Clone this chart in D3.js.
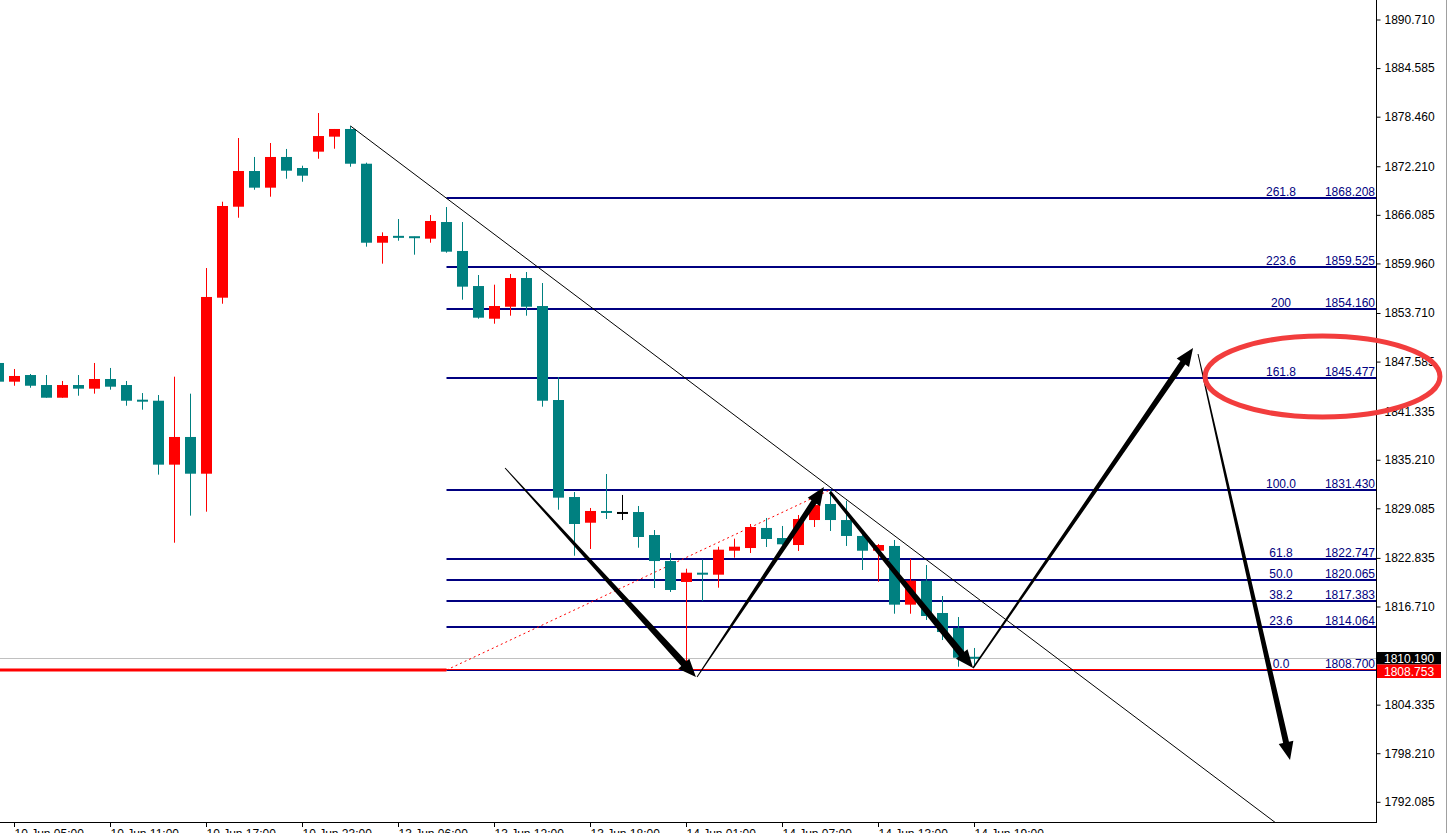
<!DOCTYPE html>
<html><head><meta charset="utf-8">
<script src="https://cdn.jsdelivr.net/npm/d3@7"></script>
<style>html,body{margin:0;padding:0;background:#fff;overflow:hidden}svg{display:block}</style>
</head><body><svg id="c" width="1449" height="833"></svg>
<script>
// ---------- DATA ----------
const opens  = [1847.41,1845.05,1845.89,1844.63,1843.03,1844.63,1844.17,1845.39,1844.63,1842.78,1842.65,1834.59,1838.08,1833.45,1855.64,1867.11,1871.61,1869.51,1873.38,1871.99,1874.05,1875.94,1876.91,1872.53,1862.57,1863.42,1863.33,1863.08,1865.18,1861.53,1857.11,1852.99,1854.50,1858.12,1854.59,1842.74,1830.51,1827.27,1828.75,1828.50,1828.62,1825.72,1822.44,1819.80,1820.97,1820.72,1823.74,1824.08,1826.61,1825.34,1824.46,1827.61,1829.63,1827.61,1825.60,1823.74,1824.34,1816.94,1819.96,1815.89,1814.00,1810.30];
const highs  = [1847.66,1846.65,1846.02,1845.89,1845.14,1845.89,1847.41,1846.78,1845.14,1843.62,1843.37,1845.68,1843.54,1859.38,1867.74,1875.77,1873.38,1875.14,1874.39,1872.28,1878.92,1876.91,1877.29,1872.66,1863.88,1865.56,1863.33,1866.06,1867.07,1865.18,1858.50,1857.28,1858.63,1858.88,1857.49,1845.64,1831.14,1829.13,1833.41,1830.77,1829.38,1826.35,1823.45,1821.47,1822.61,1824.25,1825.26,1827.11,1827.87,1826.86,1828.24,1830.51,1831.43,1830.05,1825.90,1824.59,1825.09,1822.70,1821.94,1818.03,1815.38,1811.48];
const lows   = [1844.89,1844.54,1844.29,1843.03,1843.03,1843.28,1843.54,1844.04,1842.02,1841.52,1833.33,1824.75,1828.16,1828.66,1854.88,1865.72,1869.25,1868.37,1870.64,1870.26,1873.16,1874.42,1872.15,1862.07,1859.93,1862.82,1861.06,1862.57,1861.31,1855.39,1852.99,1852.36,1853.37,1853.37,1841.90,1828.91,1823.11,1823.96,1827.74,1827.61,1824.12,1819.04,1818.54,1808.87,1817.40,1819.08,1822.86,1823.45,1824.21,1824.46,1823.71,1826.73,1826.23,1824.34,1821.31,1819.83,1815.80,1815.80,1815.01,1812.48,1809.12,1809.12];
const closes = [1845.05,1845.77,1844.54,1843.03,1844.63,1844.17,1845.39,1844.42,1842.65,1842.53,1834.59,1838.08,1833.45,1855.73,1867.20,1871.61,1869.51,1873.38,1871.65,1871.02,1876.02,1876.91,1872.53,1862.57,1863.42,1863.20,1863.20,1865.31,1861.44,1857.03,1853.12,1854.59,1858.12,1854.50,1842.65,1830.43,1827.11,1828.75,1828.50,1828.50,1825.47,1822.44,1818.79,1820.97,1820.72,1823.87,1824.25,1826.73,1825.22,1824.55,1827.74,1829.50,1827.61,1825.60,1823.74,1824.46,1816.94,1819.96,1815.51,1813.49,1810.25,1810.19];

const xTickBars   = [1,7,13,19,25,31,37,43,49,55,61];
const xTickLabels = ["10 Jun 05:00","10 Jun 11:00","10 Jun 17:00","10 Jun 23:00","13 Jun 06:00","13 Jun 12:00","13 Jun 18:00","14 Jun 01:00","14 Jun 07:00","14 Jun 13:00","14 Jun 19:00"];
const yTickValues = [1890.710,1884.585,1878.460,1872.210,1866.085,1859.960,1853.710,1847.585,1841.335,1835.210,1829.085,1822.835,1816.710,1804.335,1798.210,1792.085];

const fibRatios = ["261.8","223.6","200","161.8","100.0","61.8","50.0","38.2","23.6","0.0"];
const fibPrices = [1868.208,1859.525,1854.160,1845.477,1831.430,1822.747,1820.065,1817.383,1814.064,1808.700];
const fibAnchorBars   = [28,52];
const fibAnchorPrices = [1808.700,1831.430];

const bidPrice = 1810.190;
const askPrice = 1808.753;

const trendBars   = [22,52];
const trendPrices = [1877.29,1831.71];

const arrowStartBars   = [31.66,43.66,51.97,60.91,74.97];
const arrowStartPrices = [1834.17,1807.82,1831.14,1808.96,1848.54];
const arrowEndBars     = [43.59,51.59,60.91,74.66,80.72];
const arrowEndPrices   = [1807.82,1831.77,1808.96,1849.30,1797.36];

const ellipseBars   = [75.41,90.09];
const ellipsePrices = [1850.81,1840.60];

// ---------- LAYOUT ----------
const W = 1449, H = 833;
const plotR = 1376, plotB = 822;
const svg = d3.select("#c");
const FONT = "'Liberation Sans', Arial, sans-serif";

const x = d3.scaleLinear().domain([0,1]).range([-1.5,14.5]);
const y = d3.scaleLinear().domain([1789.54,1893.17]).range([plotB,0]);

svg.append("rect").attr("width",W).attr("height",H).attr("fill","#fff");
svg.append("defs").append("clipPath").attr("id","plot")
  .append("rect").attr("x",0).attr("y",0).attr("width",plotR).attr("height",plotB);

const g = svg.append("g").attr("clip-path","url(#plot)");

// bid line
g.append("line").attr("x1",0).attr("x2",plotR)
  .attr("y1",Math.round(y(bidPrice))+0.5).attr("y2",Math.round(y(bidPrice))+0.5)
  .attr("stroke","#c0c0c0").attr("stroke-width",1);

// thick red horizontal segment (left of fib anchor)
g.append("line").attr("x1",0).attr("x2",x(fibAnchorBars[0]))
  .attr("y1",y(fibAnchorPrices[0])).attr("y2",y(fibAnchorPrices[0]))
  .attr("stroke","#ff0000").attr("stroke-width",3);

// fib levels
fibPrices.forEach((p,i)=>{
  const yy = Math.round(y(p));
  g.append("line").attr("x1",x(fibAnchorBars[0])).attr("x2",plotR)
    .attr("y1",yy).attr("y2",yy).attr("stroke","#000080").attr("stroke-width",2);
  g.append("text").attr("x",1281).attr("y",yy-2).attr("text-anchor","middle")
    .attr("font-family",FONT).attr("font-size",12).attr("fill","#000080").text(fibRatios[i]);
  g.append("text").attr("x",1375).attr("y",yy-2).attr("text-anchor","end")
    .attr("font-family",FONT).attr("font-size",12).attr("fill","#000080").text(p.toFixed(3));
});

// ask line (thin red across)
g.append("line").attr("x1",0).attr("x2",plotR)
  .attr("y1",Math.round(y(askPrice))-0.5).attr("y2",Math.round(y(askPrice))-0.5)
  .attr("stroke","#ff0000").attr("stroke-width",1);

// fib dotted connector
g.append("line")
  .attr("x1",x(fibAnchorBars[0])).attr("y1",y(fibAnchorPrices[0]))
  .attr("x2",x(fibAnchorBars[1])).attr("y2",y(fibAnchorPrices[1]))
  .attr("stroke","#ff0000").attr("stroke-width",1).attr("stroke-dasharray","2,3");

// candles
const idx = d3.range(opens.length);
const col = i => closes[i]>opens[i] ? "#ff0000" : (closes[i]<opens[i] ? "#008080" : "#000000");
g.selectAll(".wick").data(idx).join("line")
  .attr("x1",i=>x(i)).attr("x2",i=>x(i))
  .attr("y1",i=>y(highs[i])).attr("y2",i=>y(lows[i]))
  .attr("stroke",col).attr("stroke-width",1);
g.selectAll(".body").data(idx).join("rect")
  .attr("x",i=>x(i)-5.5).attr("width",11)
  .attr("y",i=>{const t=y(Math.max(opens[i],closes[i])),b=y(Math.min(opens[i],closes[i]));return (b-t<2)?(t+b)/2-1:t;})
  .attr("height",i=>Math.max(2,y(Math.min(opens[i],closes[i]))-y(Math.max(opens[i],closes[i]))))
  .attr("fill",col);

// trendline (extended)
{
  const x0=x(trendBars[0]), y0=y(trendPrices[0]), x1=x(trendBars[1]), y1=y(trendPrices[1]);
  const t = (plotB+20-y0)/(y1-y0);
  g.append("line").attr("x1",x0).attr("y1",y0)
    .attr("x2",x0+(x1-x0)*t).attr("y2",y0+(y1-y0)*t)
    .attr("stroke","#000").attr("stroke-width",1);
}

// tapered arrows
const arrowW0 = [1,1,3,1.5,1];
const arrowW1 = [7,6,7,6,6];
function arrowPath(p0,p1,w0,w1,hl,hw){
  const dx=p1[0]-p0[0], dy=p1[1]-p0[1], L=Math.hypot(dx,dy);
  const ux=dx/L, uy=dy/L, nx=-uy, ny=ux;
  const bx=p1[0]-ux*hl, by=p1[1]-uy*hl;
  const pts=[
    [p0[0]+nx*w0/2,p0[1]+ny*w0/2],
    [bx+nx*w1/2,by+ny*w1/2],
    [bx+nx*hw/2,by+ny*hw/2],
    p1,
    [bx-nx*hw/2,by-ny*hw/2],
    [bx-nx*w1/2,by-ny*w1/2],
    [p0[0]-nx*w0/2,p0[1]-ny*w0/2]
  ];
  return "M"+pts.map(p=>p[0].toFixed(2)+","+p[1].toFixed(2)).join("L")+"Z";
}
arrowStartBars.forEach((b,i)=>{
  svg.append("path")
    .attr("d",arrowPath([x(b),y(arrowStartPrices[i])],[x(arrowEndBars[i]),y(arrowEndPrices[i])],arrowW0[i],arrowW1[i],18,15))
    .attr("fill","#000");
});

// axes
svg.append("line").attr("x1",plotR+0.5).attr("x2",plotR+0.5).attr("y1",0).attr("y2",plotB+1).attr("stroke","#000");
svg.append("line").attr("x1",0).attr("x2",plotR+1).attr("y1",plotB+0.5).attr("y2",plotB+0.5).attr("stroke","#000");
svg.append("line").attr("x1",1446.5).attr("x2",1446.5).attr("y1",0).attr("y2",H).attr("stroke","#a0a0a0");

const yAxis = d3.axisRight(y).tickValues(yTickValues).tickSize(4).tickPadding(4).tickFormat(d3.format(".3f"));
const ya = svg.append("g").attr("transform",`translate(${plotR+0.5},0)`).call(yAxis);
ya.select(".domain").remove();
ya.selectAll("text").attr("font-family",FONT).attr("font-size",12).attr("fill","#000").attr("x",8);

const xa = svg.append("g");
xTickBars.forEach((b,i)=>{
  xa.append("line").attr("x1",x(b)).attr("x2",x(b)).attr("y1",plotB).attr("y2",plotB+5).attr("stroke","#000");
  xa.append("text").attr("x",x(b)).attr("y",plotB+16).attr("font-family",FONT).attr("font-size",12).attr("fill","#000").text(xTickLabels[i]);
});

// bid / ask boxes
{
  const yb = y(bidPrice);
  svg.append("rect").attr("x",plotR+1).attr("y",Math.round(yb)-6).attr("width",64).attr("height",12.5).attr("fill","#000");
  svg.append("text").attr("x",1384).attr("y",Math.round(yb)+4.5).attr("font-family",FONT).attr("font-size",12).attr("fill","#fff").text(bidPrice.toFixed(3));
  svg.append("rect").attr("x",plotR+1).attr("y",Math.round(yb)+6.5).attr("width",64).attr("height",13.5).attr("fill","#ff0000");
  svg.append("text").attr("x",1384).attr("y",Math.round(yb)+17.5).attr("font-family",FONT).attr("font-size",12).attr("fill","#fff").text(askPrice.toFixed(3));
}

// red ellipse
{
  const cx=(x(ellipseBars[0])+x(ellipseBars[1]))/2, cy=(y(ellipsePrices[0])+y(ellipsePrices[1]))/2;
  const rx=Math.abs(x(ellipseBars[1])-x(ellipseBars[0]))/2, ry=Math.abs(y(ellipsePrices[1])-y(ellipsePrices[0]))/2;
  svg.append("ellipse").attr("cx",cx).attr("cy",cy).attr("rx",rx).attr("ry",ry)
    .attr("fill","none").attr("stroke","#f23d3d").attr("stroke-width",5);
}
</script>
</body></html>
